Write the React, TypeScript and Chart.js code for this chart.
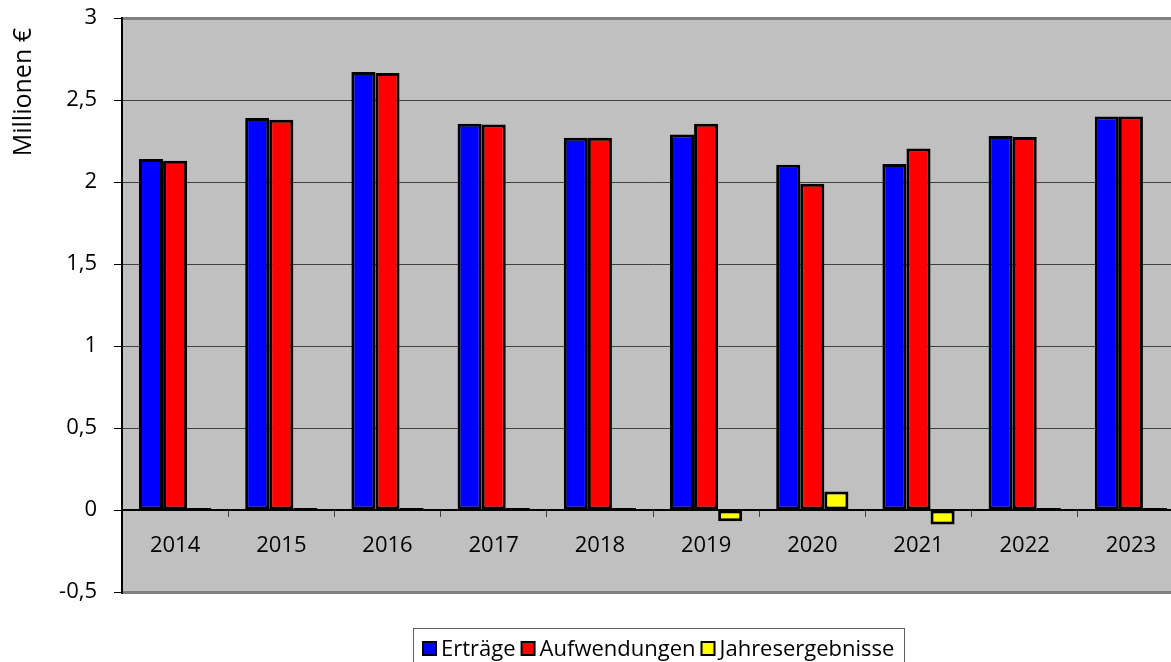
import React, { useEffect, useRef } from "react";
import { Chart, registerables } from "chart.js";

Chart.register(...registerables);

const years = ["2014", "2015", "2016", "2017", "2018", "2019", "2020", "2021", "2022", "2023"];
const ertraege = [2.14, 2.39, 2.67, 2.355, 2.27, 2.29, 2.105, 2.11, 2.28, 2.4];
const aufwendungen = [2.13, 2.38, 2.665, 2.35, 2.27, 2.355, 1.99, 2.205, 2.275, 2.4];
const jahresergebnisse = [0.012, 0.012, 0.012, 0.012, 0.012, -0.068, 0.113, -0.088, 0.012, 0.012];
const seriesLabels = ["Erträge", "Aufwendungen", "Jahresergebnisse"];
const seriesColors = ["#0000FF", "#FF0000", "#FFFF00"];
const yTickValues = [-0.5, 0, 0.5, 1, 1.5, 2, 2.5, 3];
const yTitle = "Millionen €";

const FONT = '"Open Sans", "DejaVu Sans", sans-serif';

const plotBackground = {
  id: "plotBackground",
  beforeDraw(chart: any) {
    const { ctx, chartArea } = chart;
    ctx.save();
    ctx.fillStyle = "#C0C0C0";
    ctx.fillRect(chartArea.left, chartArea.top, chartArea.right - chartArea.left, chartArea.bottom - chartArea.top);
    ctx.restore();
  },
};

const axisTitle = {
  id: "axisTitle",
  afterDraw(chart: any) {
    const { ctx, chartArea } = chart;
    ctx.save();
    ctx.font = `25px ${FONT}`;
    ctx.fillStyle = "#000";
    ctx.translate(31, chartArea.top + 10);
    ctx.rotate(-Math.PI / 2);
    ctx.textAlign = "right";
    ctx.textBaseline = "alphabetic";
    ctx.fillText(yTitle, 0, 0);
    ctx.restore();
  },
};

const boxedLegend = {
  id: "boxedLegend",
  afterDraw(chart: any) {
    const { ctx, chartArea } = chart;
    ctx.save();
    ctx.font = `22px ${FONT}`;
    const box = 13;
    const gapBoxText = 5;
    const gapItem = 6;
    const padX = 10;
    const items = chart.data.datasets.map((ds: any) => ({
      label: ds.label as string,
      color: ds.backgroundColor as string,
      w: ctx.measureText(ds.label).width,
    }));
    let content = 0;
    items.forEach((it: any, i: number) => {
      content += box + gapBoxText + it.w + (i < items.length - 1 ? gapItem : 0);
    });
    const centerX = 659;
    const left = Math.round(centerX - content / 2 - padX);
    const width = Math.round(content + padX * 2);
    const top = chartArea.bottom + 36;
    ctx.strokeStyle = "#606060";
    ctx.lineWidth = 1;
    ctx.strokeRect(left + 0.5, top + 0.5, width, 60);
    let x = left + padX;
    const baseline = top + 28;
    items.forEach((it: any) => {
      ctx.fillStyle = it.color;
      ctx.fillRect(x, baseline - 14, box, box);
      ctx.strokeStyle = "#000";
      ctx.lineWidth = 2;
      ctx.strokeRect(x, baseline - 14, box, box);
      x += box + gapBoxText;
      ctx.fillStyle = "#000";
      ctx.textBaseline = "alphabetic";
      ctx.textAlign = "left";
      ctx.fillText(it.label, x, baseline);
      x += it.w + gapItem;
    });
    ctx.restore();
  },
};

export default function App() {
  const canvasRef = useRef<HTMLCanvasElement | null>(null);

  useEffect(() => {
    const canvas = canvasRef.current;
    if (!canvas) return;
    const seriesData = [ertraege, aufwendungen, jahresergebnisse];
    const chart = new Chart(canvas, {
      type: "bar",
      data: {
        labels: years,
        datasets: seriesLabels.map((label, i) => ({
          label,
          data: seriesData[i],
          backgroundColor: seriesColors[i],
          borderColor: "#000000",
          borderWidth: 3,
          borderSkipped: false,
          categoryPercentage: 0.68,
          barPercentage: 1,
        })),
      },
      options: {
        responsive: false,
        animation: false,
        layout: { padding: { top: 18, right: 16, bottom: 70, left: 0 } },
        plugins: {
          legend: { display: false },
          tooltip: { enabled: false },
        },
        scales: {
          x: {
            position: { y: 0 } as any,
            afterFit(scale: any) {
              scale.paddingTop = 0;
              scale.paddingBottom = 0;
            },
            grid: {
              display: true,
              drawOnChartArea: false,
              drawTicks: true,
              tickLength: 6,
              tickColor: "#404040",
              tickWidth: 1,
              offset: true,
            },
            border: { display: true, color: "#000000", width: 2 },
            ticks: {
              font: { family: FONT, size: 22 },
              color: "#000000",
              padding: 17,
              maxRotation: 0,
            },
          },
          y: {
            min: -0.5,
            max: 3,
            afterBuildTicks(scale: any) {
              scale.ticks = yTickValues.map((v) => ({ value: v }));
            },
            afterFit(scale: any) {
              scale.width = 122;
              scale.paddingTop = 0;
              scale.paddingBottom = 0;
            },
            grid: {
              color: (c: any) => {
                const v = c.tick ? c.tick.value : null;
                if (v === 3 || v === -0.5) return "#808080";
                if (v === 0) return "#000000";
                return "#404040";
              },
              lineWidth: (c: any) => {
                const v = c.tick ? c.tick.value : null;
                if (v === 3 || v === -0.5) return 3;
                return 1;
              },
              drawTicks: true,
              tickLength: 8,
              tickColor: "#000000",
              tickWidth: 1,
            },
            border: { display: true, color: "#000000", width: 2 },
            ticks: {
              font: { family: FONT, size: 22 },
              color: "#000000",
              padding: 17,
              callback: (v: any) => String(v).replace(".", ","),
            },
            title: { display: false },
          },
        },
      },
      plugins: [plotBackground, axisTitle, boxedLegend],
    });
    return () => chart.destroy();
  }, []);

  return (
    <div style={{ position: "fixed", left: 0, top: 0, width: 1171, height: 662, overflow: "hidden", background: "#fff" }}>
      <canvas ref={canvasRef} width={1200} height={662} style={{ display: "block", width: 1200, height: 662 }} />
    </div>
  );
}
